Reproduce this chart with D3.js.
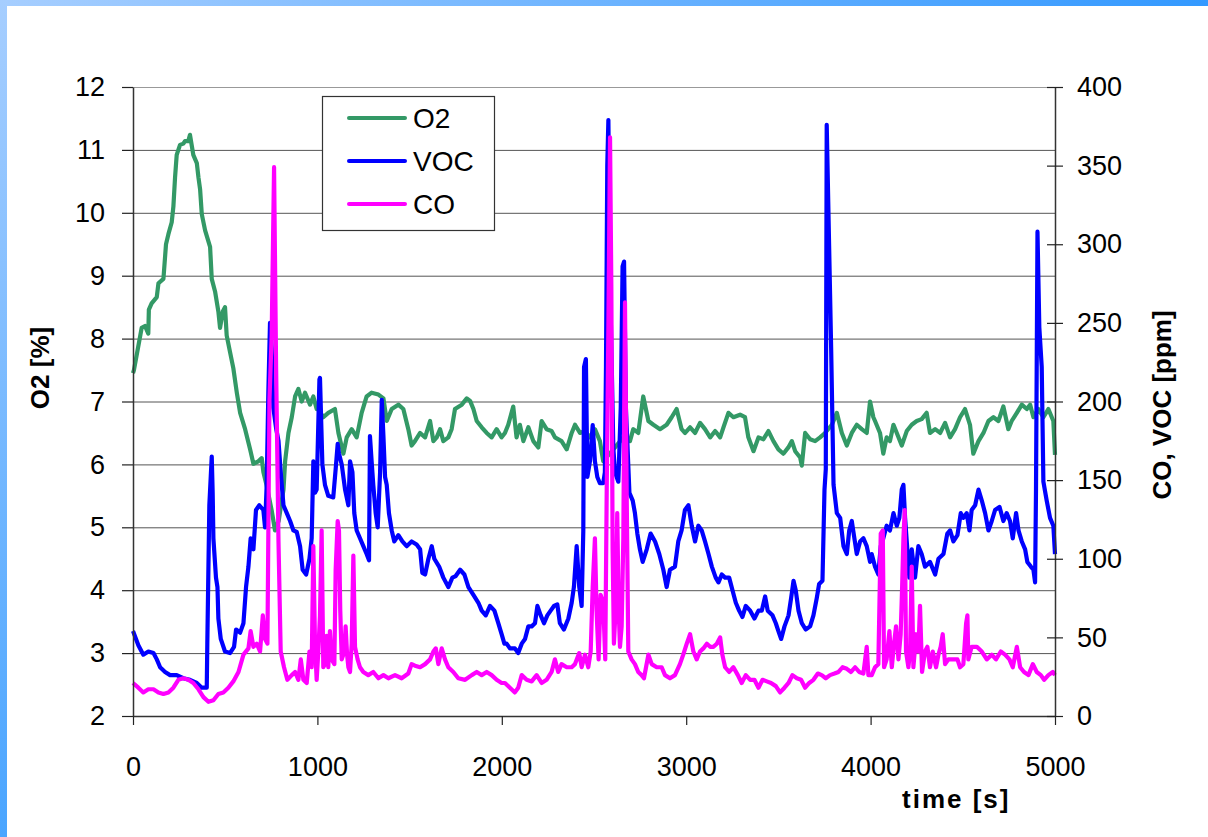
<!DOCTYPE html>
<html>
<head>
<meta charset="utf-8">
<script src="https://cdn.jsdelivr.net/npm/d3@7"></script>
<style>
  body { margin: 0; background: #fff; }
  svg { display: block; font-family: "Liberation Sans", Arial, sans-serif; }
</style>
</head>
<body>
<div class="chart"></div>
<script>
// [time s, O2 %]
const o2Data = [[0,7.45],[5,7.5],[47,8.17],[65,8.2],[83,8.08],[86,8.46],[101,8.56],[129,8.66],[138,8.88],[165,8.95],[179,9.5],[192,9.66],[210,9.85],[219,10.1],[228,10.56],[237,10.92],[255,11.08],[273,11.1],[282,11.14],[300,11.14],[309,11.24],[318,11.08],[327,10.92],[346,10.79],[355,10.56],[364,10.37],[373,9.98],[391,9.72],[418,9.46],[427,8.95],[445,8.75],[463,8.43],[472,8.17],[487,8.43],[499,8.5],[508,8.05],[526,7.79],[544,7.53],[563,7.14],[581,6.82],[608,6.56],[635,6.24],[653,6.01],[680,6.05],[698,6.1],[707,5.88],[725,5.66],[734,5.53],[752,5.27],[770,4.95],[790,5.1],[816,5.6],[825,6.05],[843,6.5],[861,6.75],[879,7.08],[897,7.2],[915,7.0],[933,7.14],[960,6.95],[978,7.08],[996,6.88],[1005,6.88],[1032,6.75],[1059,6.82],[1095,6.88],[1114,6.5],[1141,6.17],[1159,6.43],[1186,6.56],[1213,6.43],[1240,6.82],[1267,7.08],[1294,7.14],[1331,7.11],[1358,7.05],[1376,6.69],[1403,6.88],[1439,6.95],[1466,6.88],[1493,6.56],[1511,6.3],[1529,6.37],[1557,6.5],[1584,6.43],[1611,6.69],[1629,6.37],[1647,6.43],[1665,6.56],[1683,6.37],[1710,6.43],[1728,6.56],[1746,6.88],[1783,6.95],[1810,7.05],[1828,7.01],[1846,6.88],[1864,6.69],[1891,6.59],[1918,6.5],[1945,6.43],[1972,6.56],[1999,6.43],[2017,6.5],[2035,6.63],[2062,6.92],[2080,6.43],[2098,6.63],[2117,6.37],[2144,6.59],[2171,6.37],[2198,6.27],[2216,6.69],[2243,6.56],[2270,6.53],[2288,6.43],[2324,6.37],[2352,6.24],[2379,6.5],[2397,6.63],[2424,6.5],[2451,6.53],[2478,6.43],[2505,6.56],[2532,6.37],[2550,6.05],[2605,6.24],[2659,6.43],[2695,6.37],[2713,6.56],[2740,6.5],[2767,7.08],[2795,6.69],[2822,6.63],[2858,6.56],[2894,6.63],[2921,6.75],[2948,6.88],[2975,6.56],[2994,6.5],[3021,6.59],[3048,6.5],[3075,6.66],[3102,6.56],[3130,6.43],[3157,6.53],[3184,6.43],[3202,6.59],[3229,6.82],[3256,6.75],[3292,6.79],[3319,6.75],[3337,6.43],[3365,6.21],[3392,6.43],[3419,6.4],[3446,6.53],[3473,6.37],[3500,6.24],[3527,6.17],[3554,6.27],[3573,6.37],[3591,6.21],[3618,6.11],[3627,5.98],[3645,6.5],[3672,6.4],[3699,6.37],[3726,6.43],[3753,6.5],[3790,6.63],[3817,6.82],[3844,6.5],[3871,6.3],[3898,6.5],[3925,6.63],[3952,6.56],[3979,6.5],[3997,7.0],[4015,6.75],[4024,6.69],[4051,6.5],[4069,6.17],[4087,6.43],[4105,6.37],[4124,6.63],[4142,6.5],[4169,6.3],[4196,6.53],[4223,6.63],[4250,6.69],[4277,6.72],[4304,6.82],[4322,6.5],[4350,6.56],[4377,6.5],[4404,6.66],[4431,6.43],[4458,6.56],[4485,6.75],[4512,6.88],[4539,6.63],[4557,6.17],[4585,6.37],[4612,6.5],[4639,6.69],[4666,6.75],[4693,6.69],[4720,6.92],[4747,6.56],[4765,6.69],[4793,6.82],[4820,6.95],[4847,6.88],[4865,6.95],[4883,6.75],[4910,6.88],[4937,6.75],[4964,6.88],[4991,6.69],[5000,6.15]];

// [time s, VOC ppm]
const vocData = [[0,54],[29,45],[56,39],[83,41],[111,40],[129,36],[147,31],[174,28],[201,26],[237,26],[273,24],[309,23],[346,21],[373,18],[400,18],[403,46],[414,134],[427,165],[432,142],[436,113],[450,88],[458,82],[463,62],[476,49],[499,41],[526,40],[548,44],[559,55],[581,53],[599,59],[613,82],[626,95],[638,113],[653,106],[667,131],[685,134],[707,131],[716,120],[725,147],[734,206],[743,250],[752,234],[761,196],[776,183],[789,175],[801,155],[816,134],[834,129],[852,124],[870,118],[888,117],[906,108],[920,93],[939,90],[957,100],[969,113],[978,162],[987,142],[996,144],[1011,214],[1014,215],[1027,160],[1041,147],[1059,140],[1086,139],[1099,157],[1110,173],[1117,167],[1132,160],[1150,144],[1168,134],[1177,162],[1190,155],[1200,129],[1213,118],[1231,113],[1249,108],[1267,103],[1280,99],[1285,178],[1294,162],[1303,147],[1316,129],[1327,120],[1340,155],[1349,201],[1358,178],[1367,152],[1376,147],[1388,129],[1403,118],[1417,111],[1439,115],[1461,111],[1484,108],[1511,111],[1538,109],[1557,106],[1569,91],[1584,90],[1602,100],[1620,108],[1634,100],[1660,95],[1683,88],[1710,82],[1732,88],[1750,89],[1774,93],[1797,90],[1819,82],[1846,77],[1873,72],[1891,67],[1913,64],[1936,70],[1960,67],[1981,59],[1999,52],[2014,46],[2026,46],[2044,43],[2071,43],[2089,40],[2108,46],[2126,49],[2144,57],[2162,57],[2180,59],[2193,70],[2211,64],[2229,59],[2247,64],[2265,67],[2283,70],[2301,71],[2315,59],[2337,55],[2361,62],[2379,72],[2391,82],[2406,108],[2420,82],[2433,70],[2442,118],[2446,222],[2456,227],[2464,152],[2478,162],[2493,185],[2505,162],[2518,152],[2532,148],[2550,148],[2559,155],[2565,222],[2572,350],[2578,379],[2587,278],[2605,170],[2614,155],[2632,149],[2645,196],[2655,286],[2663,289],[2673,196],[2692,142],[2710,137],[2722,129],[2735,116],[2749,106],[2764,98],[2786,106],[2807,116],[2831,111],[2854,103],[2876,93],[2894,82],[2912,93],[2939,95],[2957,111],[2975,118],[2993,131],[3012,134],[3030,121],[3048,111],[3066,121],[3084,118],[3102,111],[3121,103],[3139,95],[3160,88],[3175,85],[3193,90],[3211,88],[3233,88],[3251,80],[3269,72],[3287,67],[3305,63],[3323,70],[3347,67],[3370,62],[3392,67],[3410,67],[3428,76],[3442,67],[3468,64],[3486,59],[3500,54],[3515,49],[3533,57],[3555,64],[3569,75],[3582,86],[3594,80],[3609,67],[3627,59],[3648,55],[3672,57],[3690,64],[3708,75],[3721,84],[3739,86],[3750,144],[3757,157],[3762,376],[3775,299],[3786,234],[3799,147],[3817,129],[3835,126],[3853,108],[3871,103],[3884,118],[3898,124],[3912,113],[3925,103],[3943,111],[3961,113],[3979,108],[3997,98],[4006,103],[4024,95],[4042,90],[4055,108],[4069,113],[4087,121],[4105,118],[4124,129],[4142,121],[4156,126],[4169,144],[4178,147],[4187,126],[4196,111],[4210,88],[4223,106],[4241,88],[4259,108],[4277,103],[4295,95],[4322,98],[4350,90],[4368,100],[4395,103],[4416,116],[4431,118],[4449,111],[4471,115],[4489,129],[4503,126],[4521,129],[4536,118],[4548,131],[4567,134],[4585,144],[4603,137],[4621,129],[4639,118],[4657,124],[4675,131],[4699,133],[4720,124],[4738,129],[4756,124],[4771,113],[4789,129],[4802,118],[4820,111],[4838,106],[4850,98],[4869,95],[4883,93],[4892,85],[4897,144],[4905,308],[4915,247],[4928,222],[4937,149],[4955,137],[4973,126],[4991,121],[5000,103]];

// [time s, CO ppm]
const coData = [[0,21],[29,18],[56,15],[83,17],[111,17],[138,15],[165,14],[192,15],[219,18],[246,23],[273,24],[300,23],[327,21],[355,17],[382,12],[409,9],[436,10],[463,14],[490,15],[517,18],[544,22],[572,28],[599,39],[626,43],[638,54],[653,44],[671,46],[689,41],[704,64],[716,49],[729,46],[740,201],[752,242],[765,349],[776,222],[789,111],[801,41],[819,31],[837,23],[861,26],[879,28],[897,23],[910,36],[924,23],[942,21],[957,41],[969,31],[978,108],[987,46],[996,23],[1005,41],[1014,64],[1023,118],[1032,31],[1041,33],[1050,51],[1059,31],[1068,54],[1077,36],[1092,33],[1099,93],[1110,124],[1117,118],[1124,67],[1132,36],[1146,41],[1153,57],[1161,39],[1168,31],[1177,28],[1186,46],[1195,102],[1204,44],[1218,36],[1231,31],[1249,28],[1276,26],[1303,28],[1331,24],[1358,26],[1385,24],[1421,26],[1457,24],[1493,27],[1511,33],[1529,32],[1557,31],[1584,33],[1611,36],[1629,41],[1642,43],[1656,33],[1674,43],[1692,36],[1710,31],[1737,28],[1764,24],[1801,23],[1837,26],[1864,28],[1891,26],[1918,28],[1945,26],[1972,23],[1999,21],[2017,21],[2044,18],[2071,15],[2089,18],[2108,26],[2135,23],[2162,22],[2189,26],[2216,21],[2243,23],[2270,28],[2288,36],[2306,28],[2324,33],[2352,31],[2379,31],[2397,33],[2420,40],[2433,31],[2451,39],[2469,31],[2482,41],[2493,82],[2505,113],[2514,67],[2525,36],[2536,77],[2550,72],[2561,36],[2569,144],[2578,247],[2587,368],[2594,273],[2601,106],[2608,46],[2619,72],[2626,129],[2634,67],[2641,44],[2650,57],[2659,113],[2668,263],[2677,144],[2686,41],[2704,36],[2722,33],[2740,28],[2758,26],[2771,24],[2795,39],[2813,33],[2840,31],[2867,31],[2885,26],[2912,24],[2939,26],[2966,33],[2984,39],[3003,46],[3021,52],[3039,41],[3057,36],[3075,41],[3093,43],[3112,46],[3130,44],[3148,44],[3166,46],[3184,50],[3196,39],[3211,31],[3233,28],[3256,31],[3280,26],[3301,21],[3323,26],[3347,23],[3370,23],[3392,18],[3414,23],[3437,22],[3460,21],[3486,19],[3509,15],[3533,18],[3555,21],[3576,26],[3600,24],[3623,23],[3645,18],[3667,21],[3690,23],[3714,27],[3735,26],[3757,24],[3780,26],[3804,27],[3826,28],[3848,31],[3871,30],[3894,28],[3916,31],[3938,28],[3961,27],[3979,44],[3988,26],[4006,26],[4024,31],[4042,33],[4055,116],[4066,118],[4073,31],[4087,36],[4102,54],[4115,31],[4127,46],[4138,57],[4151,36],[4163,52],[4171,82],[4178,113],[4185,131],[4192,41],[4205,31],[4214,41],[4223,95],[4232,31],[4247,52],[4259,41],[4268,70],[4279,28],[4295,41],[4308,44],[4322,31],[4337,41],[4355,31],[4368,39],[4380,44],[4391,52],[4404,33],[4422,36],[4445,36],[4471,36],[4485,31],[4503,33],[4518,59],[4525,64],[4530,36],[4548,44],[4576,44],[4603,41],[4630,36],[4657,39],[4680,36],[4706,41],[4729,39],[4753,36],[4771,31],[4793,44],[4811,31],[4832,28],[4856,26],[4880,33],[4901,28],[4923,26],[4941,23],[4964,26],[4988,28],[5000,26]];

const xTicks = [0, 1000, 2000, 3000, 4000, 5000];
const o2Ticks = [2, 3, 4, 5, 6, 7, 8, 9, 10, 11, 12];
const ppmTicks = [0, 50, 100, 150, 200, 250, 300, 350, 400];
const seriesNames = ['O2', 'VOC', 'CO'];
const seriesColors = ['#339966', '#0000ff', '#ff00ff'];

function displayGraph() {
  const w = 1208;
  const h = 837;
  const plot = { left: 133, right: 1055, top: 87, bottom: 716 };

  const xScale = d3.scaleLinear().domain([0, 5000]).range([plot.left, plot.right]);
  const yLeft = d3.scaleLinear().domain([2, 12]).range([plot.bottom, plot.top]);
  const yRight = d3.scaleLinear().domain([0, 400]).range([plot.bottom, plot.top]);

  const svg = d3.select('.chart')
    .append('svg')
    .attr('width', w)
    .attr('height', h);

  // slide frame
  const defs = svg.append('defs');
  const gTop = defs.append('linearGradient').attr('id', 'gTop');
  gTop.append('stop').attr('offset', '0%').attr('stop-color', '#a6ceff');
  gTop.append('stop').attr('offset', '100%').attr('stop-color', '#3399ff');
  const gLeft = defs.append('linearGradient').attr('id', 'gLeft')
    .attr('x1', 0).attr('y1', 0).attr('x2', 0).attr('y2', 1);
  gLeft.append('stop').attr('offset', '0%').attr('stop-color', '#a6ceff');
  gLeft.append('stop').attr('offset', '100%').attr('stop-color', '#4aa5ff');

  svg.append('rect').attr('x', 0).attr('y', 0).attr('width', w).attr('height', 6).attr('fill', 'url(#gTop)');
  svg.append('rect').attr('x', 0).attr('y', 0).attr('width', 7).attr('height', h).attr('fill', 'url(#gLeft)');

  // gridlines
  svg.append('g')
    .selectAll('line')
    .data(o2Ticks.filter((d) => d > 2))
    .join('line')
    .attr('x1', plot.left)
    .attr('x2', plot.right)
    .attr('y1', (d) => yLeft(d) + 0.5)
    .attr('y2', (d) => yLeft(d) + 0.5)
    .attr('stroke', (d) => d === 12 ? '#999' : '#555')
    .attr('stroke-width', 1);

  // series
  const lines = [
    { data: o2Data, y: yLeft },
    { data: vocData, y: yRight },
    { data: coData, y: yRight }
  ];
  lines.forEach((s, i) => {
    svg.append('path')
      .datum(s.data)
      .attr('fill', 'none')
      .attr('stroke', seriesColors[i])
      .attr('stroke-width', 4.2)
      .attr('stroke-linejoin', 'round')
      .attr('d', d3.line().x((d) => xScale(d[0])).y((d) => s.y(d[1])));
  });

  const fontSize = '27px';

  // axes
  const xAxis = svg.append('g')
    .attr('transform', `translate(0, ${plot.bottom})`)
    .call(d3.axisBottom(xScale).tickValues(xTicks).tickFormat(d3.format('d'))
      .tickSizeInner(9).tickSizeOuter(0).tickPadding(32));

  const leftAxis = svg.append('g')
    .attr('transform', `translate(${plot.left}, 0)`)
    .call(d3.axisLeft(yLeft).tickValues(o2Ticks).tickSizeInner(11).tickSizeOuter(0).tickPadding(17));

  const rightAxis = svg.append('g')
    .attr('transform', `translate(${plot.right}, 0)`)
    .call(d3.axisRight(yRight).tickValues(ppmTicks).tickSizeInner(8).tickSizeOuter(0).tickPadding(14));

  rightAxis.selectAll('.tick line').attr('x1', -8);

  [xAxis, leftAxis, rightAxis].forEach((a) => {
    a.selectAll('.domain').attr('stroke', '#333').attr('stroke-width', 1.5);
    a.selectAll('.tick line').attr('stroke', '#222').attr('stroke-width', 1.2);
    a.selectAll('text')
      .attr('font-family', '"Liberation Sans", Arial, sans-serif')
      .attr('font-size', fontSize)
      .attr('fill', '#000');
  });

  // axis titles
  svg.append('text')
    .attr('transform', 'translate(49, 368) rotate(-90)')
    .attr('text-anchor', 'middle')
    .attr('font-size', '26px')
    .attr('font-weight', 'bold')
    .text('O2 [%]');

  svg.append('text')
    .attr('transform', 'translate(1171, 405) rotate(-90)')
    .attr('text-anchor', 'middle')
    .attr('font-size', '26px')
    .attr('font-weight', 'bold')
    .text('CO, VOC [ppm]');

  svg.append('text')
    .attr('x', 902)
    .attr('y', 808)
    .attr('font-size', '26px')
    .attr('font-weight', 'bold')
    .attr('letter-spacing', '2px')
    .text('time [s]');

  // legend
  const legend = svg.append('g').attr('transform', 'translate(322, 96)');
  legend.append('rect')
    .attr('x', 0.5).attr('y', 0.5)
    .attr('width', 172).attr('height', 134)
    .attr('fill', '#fff')
    .attr('stroke', '#333')
    .attr('stroke-width', 1.2);

  seriesNames.forEach((name, i) => {
    const y = 22 + i * 43;
    legend.append('line')
      .attr('x1', 27).attr('x2', 83)
      .attr('y1', y).attr('y2', y)
      .attr('stroke', seriesColors[i])
      .attr('stroke-width', 4)
      .attr('stroke-linecap', 'round');
    legend.append('text')
      .attr('x', 91)
      .attr('y', y + 10)
      .attr('font-size', '28px')
      .text(name);
  });
}

displayGraph();
</script>
</body>
</html>
